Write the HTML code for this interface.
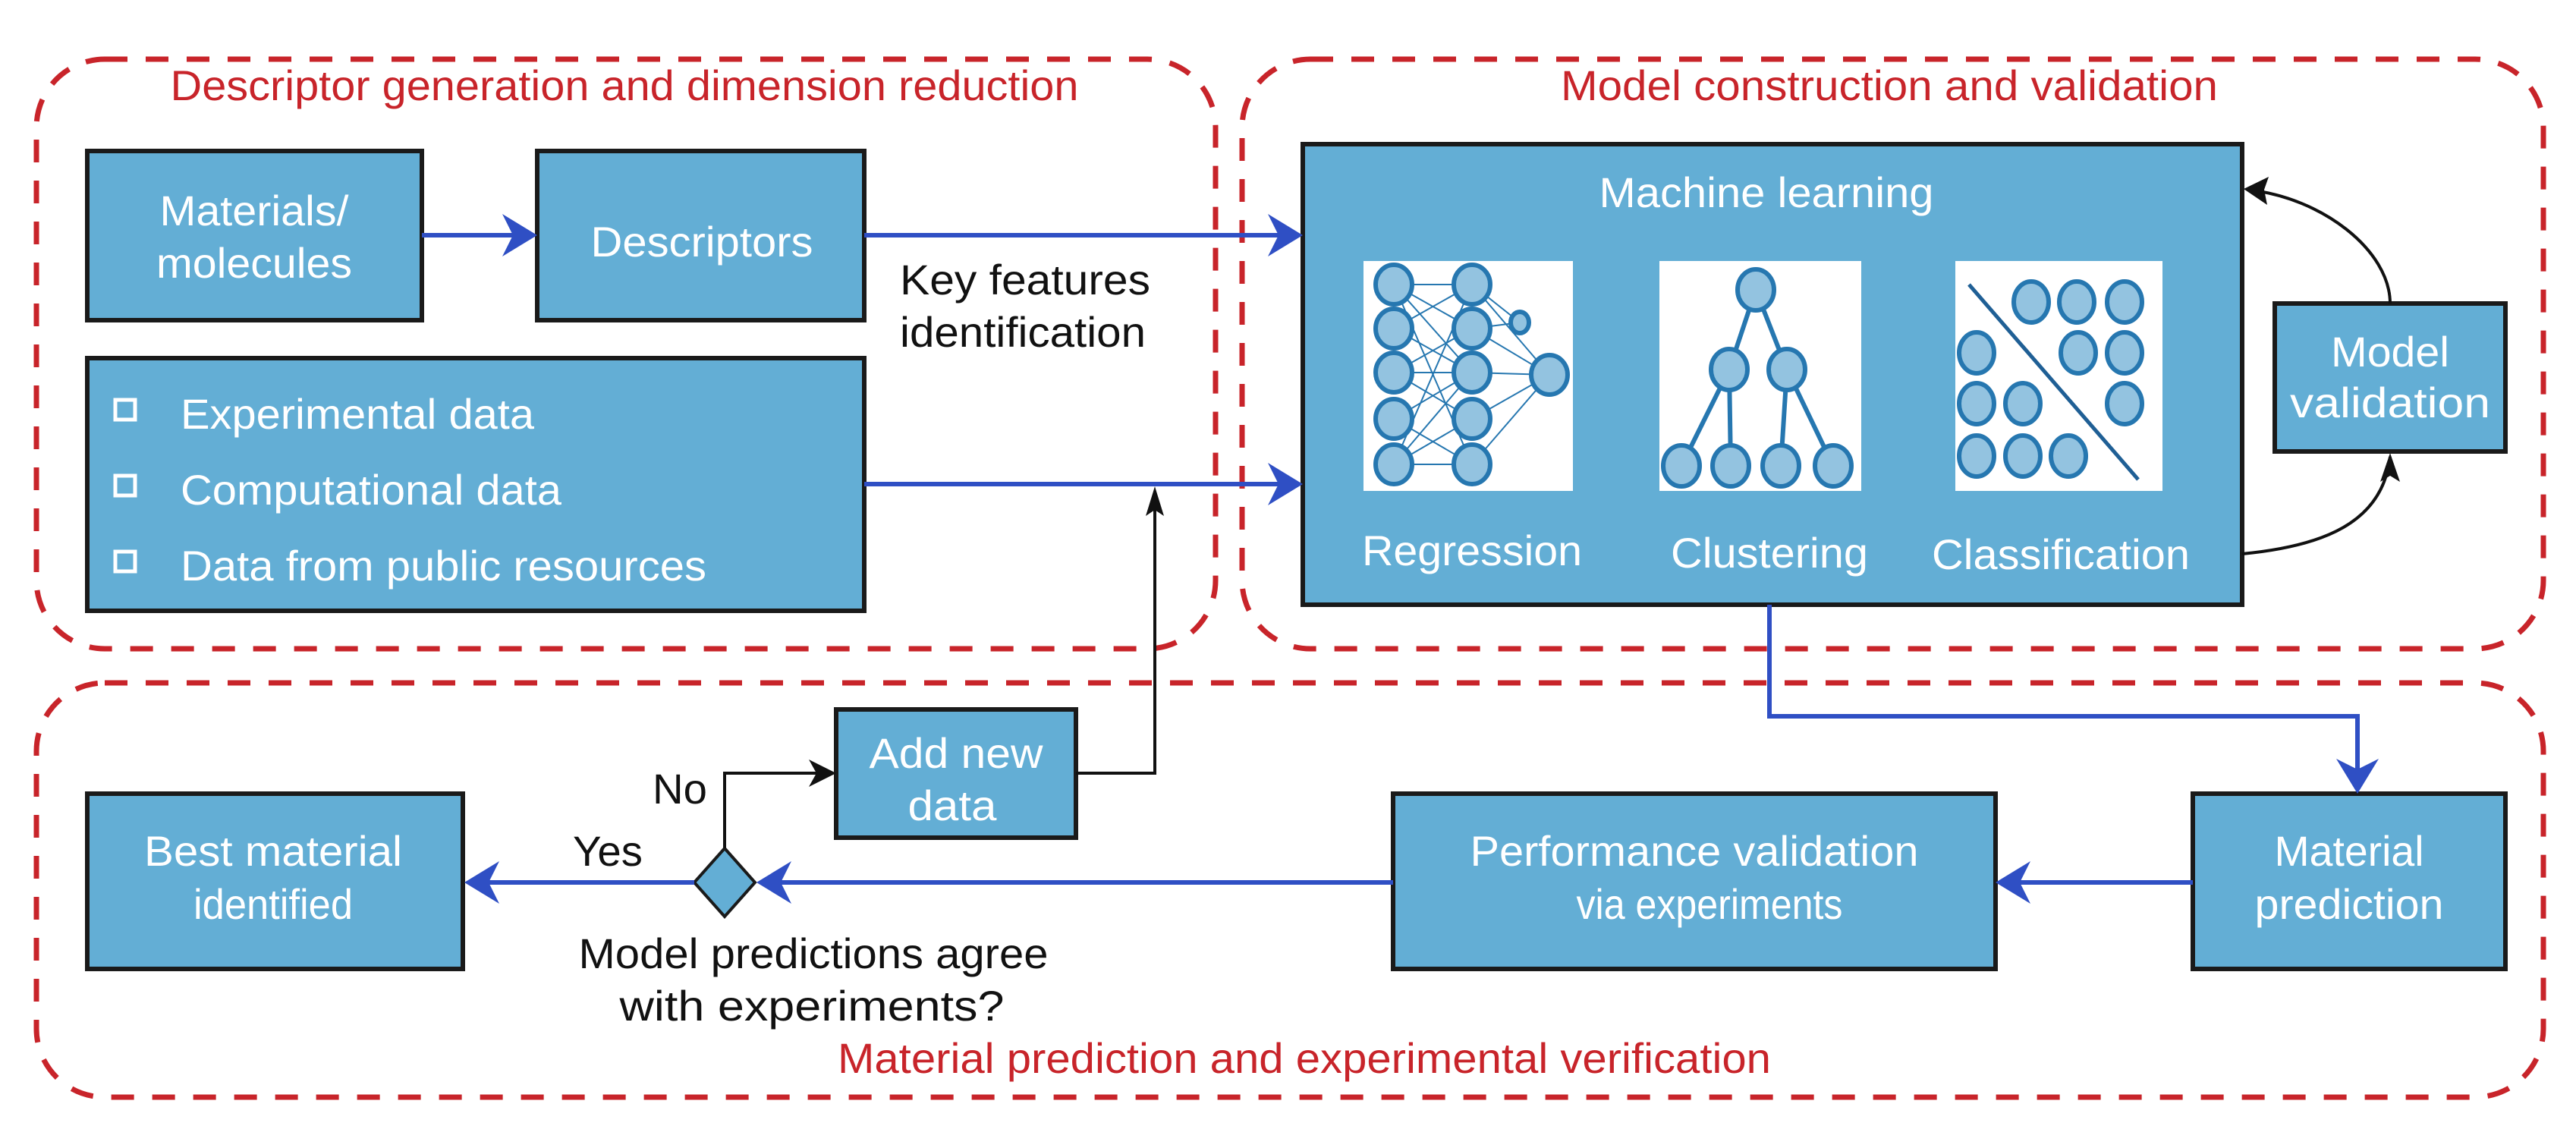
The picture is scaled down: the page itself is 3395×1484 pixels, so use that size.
<!DOCTYPE html>
<html><head><meta charset="utf-8"><style>
html,body{margin:0;padding:0;background:#fff;}
svg{display:block;}
text{font-family:"Liberation Sans Narrow","Liberation Sans",sans-serif;}
.w{fill:#fff;font-size:56px;}
.b{fill:#111;font-size:56px;}
.r{fill:#c8242a;font-size:56px;}
.box{fill:#63aed5;stroke:#1a1a1a;stroke-width:6;}
.dash{fill:none;stroke:#c8242a;stroke-width:7;stroke-dasharray:30 24;}
.bl{stroke:#2f4fc4;stroke-width:6;fill:none;}
.k{stroke:#111;stroke-width:4;fill:none;}
.c{fill:#93c3e0;stroke:#2677b0;stroke-width:6;}
</style></head><body>
<svg width="3395" height="1484" viewBox="0 0 3395 1484" xmlns="http://www.w3.org/2000/svg">
<defs>
<marker id="ab" markerWidth="10" markerHeight="10" refX="9" refY="5" orient="auto" markerUnits="userSpaceOnUse" viewBox="0 0 10 10">
</marker>
</defs>
<!-- dashed groups -->
<rect class="dash" x="48" y="78" width="1554" height="777" rx="90"/>
<rect class="dash" x="1637" y="78" width="1715" height="777" rx="90"/>
<rect class="dash" x="48" y="900" width="3304" height="546" rx="90"/>
<text class="r" x="823" y="132" text-anchor="middle" textLength="1197" lengthAdjust="spacingAndGlyphs">Descriptor generation and dimension reduction</text>
<text class="r" x="2490" y="132" text-anchor="middle" textLength="866" lengthAdjust="spacingAndGlyphs">Model construction and validation</text>
<text class="r" x="1719" y="1414" text-anchor="middle" textLength="1230" lengthAdjust="spacingAndGlyphs">Material prediction and experimental verification</text>

<!-- boxes -->
<rect class="box" x="115" y="199" width="441" height="223"/>
<text class="w" x="335" y="297" text-anchor="middle" textLength="249" lengthAdjust="spacingAndGlyphs">Materials/</text>
<text class="w" x="335" y="366" text-anchor="middle" textLength="258" lengthAdjust="spacingAndGlyphs">molecules</text>
<rect class="box" x="708" y="199" width="431" height="223"/>
<text class="w" x="925" y="338" text-anchor="middle" textLength="293" lengthAdjust="spacingAndGlyphs">Descriptors</text>

<rect class="box" x="115" y="472" width="1024" height="333"/>
<g fill="#fff" stroke="#fff"><rect x="152" y="527" width="26" height="26" fill="none" stroke-width="5"/><rect x="152" y="627" width="26" height="26" fill="none" stroke-width="5"/><rect x="152" y="727" width="26" height="26" fill="none" stroke-width="5"/></g>
<text class="w" x="238" y="565" textLength="466" lengthAdjust="spacingAndGlyphs">Experimental data</text>
<text class="w" x="238" y="665" textLength="502" lengthAdjust="spacingAndGlyphs">Computational data</text>
<text class="w" x="238" y="765" textLength="693" lengthAdjust="spacingAndGlyphs">Data from public resources</text>

<text class="b" x="1186" y="388" textLength="330" lengthAdjust="spacingAndGlyphs">Key features</text>
<text class="b" x="1186" y="457" textLength="324" lengthAdjust="spacingAndGlyphs">identification</text>

<!-- ML box -->
<rect class="box" x="1717" y="190" width="1238" height="607"/>
<text class="w" x="2328" y="273" text-anchor="middle" textLength="441" lengthAdjust="spacingAndGlyphs">Machine learning</text>
<rect x="1797" y="344" width="276" height="303" fill="#fff"/>
<rect x="2187" y="344" width="266" height="303" fill="#fff"/>
<rect x="2577" y="344" width="273" height="303" fill="#fff"/>
<!-- regression -->
<g stroke="#2677b0" stroke-width="2">
<line x1="1837" y1="375" x2="1940" y2="433"/><line x1="1837" y1="433" x2="1940" y2="375"/><line x1="1837" y1="433" x2="1940" y2="491"/><line x1="1837" y1="491" x2="1940" y2="433"/><line x1="1837" y1="491" x2="1940" y2="552"/><line x1="1837" y1="552" x2="1940" y2="491"/><line x1="1837" y1="552" x2="1940" y2="612"/><line x1="1837" y1="612" x2="1940" y2="552"/><line x1="1837" y1="375" x2="1940" y2="612"/><line x1="1837" y1="612" x2="1940" y2="375"/><line x1="1837" y1="375" x2="1940" y2="491"/><line x1="1837" y1="612" x2="1940" y2="491"/>
<line x1="1837" y1="375" x2="1940" y2="375"/><line x1="1837" y1="612" x2="1940" y2="612"/><line x1="1837" y1="491" x2="1940" y2="491"/>
<line x1="1940" y1="375" x2="2042" y2="494"/><line x1="1940" y1="433" x2="2042" y2="494"/><line x1="1940" y1="491" x2="2042" y2="494"/><line x1="1940" y1="552" x2="2042" y2="494"/><line x1="1940" y1="612" x2="2042" y2="494"/><line x1="1940" y1="433" x2="2003" y2="425"/><line x1="1940" y1="375" x2="2003" y2="425"/>
</g>
<g class="c">
<ellipse cx="1837" cy="375" rx="24" ry="26"/><ellipse cx="1837" cy="433" rx="24" ry="26"/><ellipse cx="1837" cy="491" rx="24" ry="26"/><ellipse cx="1837" cy="552" rx="24" ry="26"/><ellipse cx="1837" cy="612" rx="24" ry="26"/>
<ellipse cx="1940" cy="375" rx="24" ry="26"/><ellipse cx="1940" cy="433" rx="24" ry="26"/><ellipse cx="1940" cy="491" rx="24" ry="26"/><ellipse cx="1940" cy="552" rx="24" ry="26"/><ellipse cx="1940" cy="612" rx="24" ry="26"/>
<ellipse cx="2003" cy="425" rx="12" ry="14"/><ellipse cx="2042" cy="494" rx="24" ry="26"/>
</g>
<!-- clustering -->
<g stroke="#2677b0" stroke-width="6"><line x1="2314" y1="382" x2="2279" y2="487"/><line x1="2314" y1="382" x2="2355" y2="487"/><line x1="2279" y1="487" x2="2216" y2="614"/><line x1="2279" y1="487" x2="2281" y2="614"/><line x1="2355" y1="487" x2="2347" y2="614"/><line x1="2355" y1="487" x2="2416" y2="614"/></g>
<g class="c"><ellipse cx="2314" cy="382" rx="24" ry="27"/><ellipse cx="2279" cy="487" rx="24" ry="27"/><ellipse cx="2355" cy="487" rx="24" ry="27"/><ellipse cx="2216" cy="614" rx="24" ry="27"/><ellipse cx="2281" cy="614" rx="24" ry="27"/><ellipse cx="2347" cy="614" rx="24" ry="27"/><ellipse cx="2416" cy="614" rx="24" ry="27"/></g>
<!-- classification -->
<line x1="2595" y1="375" x2="2818" y2="632" stroke="#1f5f95" stroke-width="5"/>
<g class="c"><ellipse cx="2677" cy="398" rx="23" ry="27"/><ellipse cx="2737" cy="398" rx="23" ry="27"/><ellipse cx="2800" cy="398" rx="23" ry="27"/><ellipse cx="2739" cy="465" rx="23" ry="27"/><ellipse cx="2800" cy="465" rx="23" ry="27"/><ellipse cx="2605" cy="465" rx="23" ry="27"/><ellipse cx="2605" cy="532" rx="23" ry="27"/><ellipse cx="2666" cy="532" rx="23" ry="27"/><ellipse cx="2800" cy="532" rx="23" ry="27"/><ellipse cx="2605" cy="601" rx="23" ry="27"/><ellipse cx="2666" cy="601" rx="23" ry="27"/><ellipse cx="2726" cy="601" rx="23" ry="27"/></g>
<text class="w" x="1940" y="745" text-anchor="middle" textLength="290" lengthAdjust="spacingAndGlyphs">Regression</text>
<text class="w" x="2332" y="748" text-anchor="middle" textLength="260" lengthAdjust="spacingAndGlyphs">Clustering</text>
<text class="w" x="2716" y="750" text-anchor="middle" textLength="340" lengthAdjust="spacingAndGlyphs">Classification</text>

<rect class="box" x="2998" y="400" width="304" height="195"/>
<text class="w" x="3150" y="483" text-anchor="middle" textLength="156" lengthAdjust="spacingAndGlyphs">Model</text>
<text class="w" x="3150" y="550" text-anchor="middle" textLength="264" lengthAdjust="spacingAndGlyphs">validation</text>

<!-- bottom boxes -->
<rect class="box" x="2890" y="1046" width="412" height="231"/>
<text class="w" x="3096" y="1141" text-anchor="middle" textLength="197" lengthAdjust="spacingAndGlyphs">Material</text>
<text class="w" x="3096" y="1211" text-anchor="middle" textLength="249" lengthAdjust="spacingAndGlyphs">prediction</text>
<rect class="box" x="1836" y="1046" width="794" height="231"/>
<text class="w" x="2233" y="1141" text-anchor="middle" textLength="591" lengthAdjust="spacingAndGlyphs">Performance validation</text>
<text class="w" x="2253" y="1211" text-anchor="middle" textLength="351" lengthAdjust="spacingAndGlyphs">via experiments</text>
<rect class="box" x="115" y="1046" width="495" height="231"/>
<text class="w" x="360" y="1141" text-anchor="middle" textLength="340" lengthAdjust="spacingAndGlyphs">Best material</text>
<text class="w" x="360" y="1211" text-anchor="middle" textLength="210" lengthAdjust="spacingAndGlyphs">identified</text>
<rect class="box" x="1102" y="935" width="316" height="169"/>
<text class="w" x="1260" y="1012" text-anchor="middle" textLength="229" lengthAdjust="spacingAndGlyphs">Add new</text>
<text class="w" x="1255" y="1081" text-anchor="middle" textLength="117" lengthAdjust="spacingAndGlyphs">data</text>

<polygon points="955,1118 995,1163 955,1208 915,1163" fill="#63aed5" stroke="#1a1a1a" stroke-width="4"/>
<text class="b" x="801" y="1141" text-anchor="middle" textLength="92" lengthAdjust="spacingAndGlyphs">Yes</text>
<text class="b" x="896" y="1059" text-anchor="middle" textLength="72" lengthAdjust="spacingAndGlyphs">No</text>
<text class="b" x="1072" y="1276" text-anchor="middle" textLength="619" lengthAdjust="spacingAndGlyphs">Model predictions agree</text>
<text class="b" x="1070" y="1345" text-anchor="middle" textLength="507" lengthAdjust="spacingAndGlyphs">with experiments?</text>

<!-- blue connectors -->
<line class="bl" x1="556" y1="310" x2="700" y2="310"/>
<polygon points="708,310 662,282 676,310 662,338" fill="#2f4fc4"/>
<line class="bl" x1="1139" y1="310" x2="1710" y2="310"/>
<polygon points="1717,310 1671,282 1685,310 1671,338" fill="#2f4fc4"/>
<line class="bl" x1="1139" y1="638" x2="1710" y2="638"/>
<polygon points="1717,638 1671,610 1685,638 1671,666" fill="#2f4fc4"/>
<polyline class="bl" points="2332,797 2332,944 3107,944 3107,1040"/>
<polygon points="3107,1046 3079,1000 3107,1014 3135,1000" fill="#2f4fc4"/>
<line class="bl" x1="2890" y1="1163" x2="2640" y2="1163"/>
<polygon points="2630,1163 2676,1135 2662,1163 2676,1191" fill="#2f4fc4"/>
<line class="bl" x1="1836" y1="1163" x2="1005" y2="1163"/>
<polygon points="997,1163 1043,1135 1029,1163 1043,1191" fill="#2f4fc4"/>
<line class="bl" x1="915" y1="1163" x2="620" y2="1163"/>
<polygon points="612,1163 658,1135 644,1163 658,1191" fill="#2f4fc4"/>

<!-- black connectors -->
<polyline class="k" points="955,1118 955,1019 1096,1019"/>
<polygon points="1102,1019 1066,1001 1076,1019 1066,1037" fill="#111"/>
<polyline class="k" points="1418,1019 1522,1019 1522,648"/>
<polygon points="1522,641 1510,680 1522,672 1534,680" fill="#111"/>
<path class="k" d="M2955,730 C3060,720 3140,690 3150,602"/>
<polygon points="3150,597 3137,635 3150,627 3163,635" fill="#111"/>
<path class="k" d="M3150,400 C3150,330 3060,260 2962,250"/>
<polygon points="2957,249 2990,233 2984,250 2988,270" fill="#111"/>
</svg>
</body></html>
